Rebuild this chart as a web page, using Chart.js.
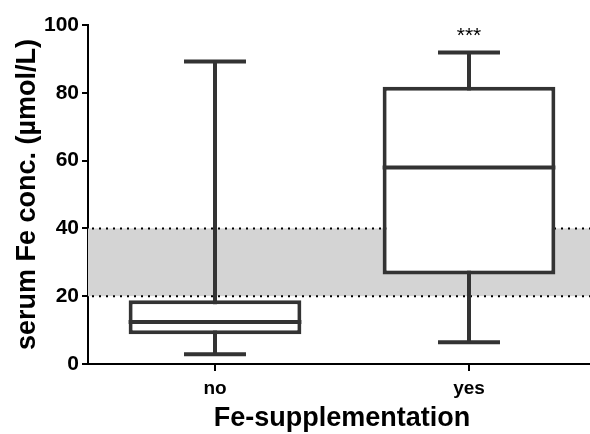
<!DOCTYPE html>
<html>
<head>
<meta charset="utf-8">
<script src="https://cdn.jsdelivr.net/npm/chart.js@4.4.0/dist/chart.umd.min.js"></script>
<style>
  html, body { margin: 0; padding: 0; background: #fff; overflow: hidden; }
  #wrap { width: 596px; height: 434px; }
</style>
</head>
<body>
<div id="wrap"><canvas id="box-chart"></canvas></div>
<script>
// box plot data
const categories = ['no', 'yes'];
const whiskerMin = [2.9, 6.4];
const quartile1 = [8.8, 26.4];
const medians = [12.4, 58.0];
const quartile3 = [18.8, 81.8];
const whiskerMax = [89.2, 91.9];
const yTicks = [0, 20, 40, 60, 80, 100];
const refRange = [20, 40];
const significance = ['', '***'];

const boxColor = '#333333';
const fontFamily = '"Liberation Sans", Arial, Helvetica, sans-serif';

// draws reference band, whiskers, medians and stars using the chart scales
const boxPlotExtras = {
    id: 'boxPlotExtras',
    beforeDatasetsDraw(chart) {
        const ctx = chart.ctx;
        const area = chart.chartArea;
        const y = chart.scales.y;
        const x = chart.scales.x;
        const yLow = y.getPixelForValue(refRange[0]);
        const yHigh = y.getPixelForValue(refRange[1]);

        ctx.save();
        ctx.fillStyle = '#d4d4d4';
        ctx.fillRect(area.left, yHigh, area.right - area.left, yLow - yHigh);

        ctx.strokeStyle = '#000';
        ctx.lineWidth = 2;
        ctx.setLineDash([2, 5]);
        [yLow, yHigh].forEach(py => {
            ctx.beginPath();
            ctx.moveTo(area.left + 4, py);
            ctx.lineTo(area.right, py);
            ctx.stroke();
        });
        ctx.setLineDash([]);

        // whiskers
        const catWidth = x.getPixelForValue(1) - x.getPixelForValue(0);
        const capHalf = catWidth * 0.122;
        ctx.strokeStyle = boxColor;
        ctx.lineWidth = 4;
        categories.forEach((cat, i) => {
            const cx = x.getPixelForValue(i);
            const pMin = y.getPixelForValue(whiskerMin[i]);
            const pMax = y.getPixelForValue(whiskerMax[i]);
            ctx.beginPath();
            ctx.moveTo(cx, pMin);
            ctx.lineTo(cx, pMax);
            ctx.moveTo(cx - capHalf, pMin);
            ctx.lineTo(cx + capHalf, pMin);
            ctx.moveTo(cx - capHalf, pMax);
            ctx.lineTo(cx + capHalf, pMax);
            ctx.stroke();
        });
        ctx.restore();
    },
    afterDatasetsDraw(chart) {
        const ctx = chart.ctx;
        const y = chart.scales.y;
        const meta = chart.getDatasetMeta(0);

        ctx.save();
        ctx.strokeStyle = boxColor;
        ctx.lineWidth = 4;
        meta.data.forEach((bar, i) => {
            const half = bar.width / 2;
            const py = y.getPixelForValue(medians[i]);
            ctx.beginPath();
            ctx.moveTo(bar.x - half, py);
            ctx.lineTo(bar.x + half, py);
            ctx.stroke();
        });

        ctx.fillStyle = '#000';
        ctx.font = '21px ' + fontFamily;
        ctx.textAlign = 'center';
        ctx.textBaseline = 'middle';
        meta.data.forEach((bar, i) => {
            if (significance[i]) {
                ctx.fillText(significance[i], bar.x, y.getPixelForValue(whiskerMax[i]) - 16);
            }
        });
        ctx.restore();
    }
};

const chartCanvas = document.getElementById('box-chart');
const chartContext = chartCanvas.getContext('2d');

window.boxChart = new Chart(chartContext, {
    type: 'bar',
    data: {
        labels: categories,
        datasets: [{
            label: 'serum Fe',
            data: categories.map((c, i) => [quartile1[i], quartile3[i]]),
            backgroundColor: 'rgba(255, 255, 255, 1)',
            borderColor: boxColor,
            borderWidth: 4,
            borderSkipped: false,
            barPercentage: 0.68,
            categoryPercentage: 1.0
        }]
    },
    plugins: [boxPlotExtras],
    options: {
        responsive: true,
        maintainAspectRatio: false,
        animation: false,
        layout: {
            padding: { top: 25, right: 0, bottom: 0, left: 11 }
        },
        plugins: {
            legend: { display: false },
            tooltip: { enabled: false }
        },
        scales: {
            x: {
                afterFit(scale) {
                    scale.height = 70;
                },
                grid: {
                    display: true,
                    offset: false,
                    drawOnChartArea: false,
                    tickLength: 7,
                    tickColor: '#000',
                    lineWidth: 2
                },
                border: { color: '#000', width: 2 },
                ticks: {
                    color: '#000',
                    padding: 6,
                    font: { family: fontFamily, size: 19, weight: 'bold' }
                },
                title: {
                    display: true,
                    text: 'Fe-supplementation',
                    color: '#000',
                    padding: { top: 0, bottom: -1 },
                    font: { family: fontFamily, size: 27, weight: 'bold' }
                }
            },
            y: {
                min: 0,
                max: 100,
                afterBuildTicks(axis) {
                    axis.ticks = yTicks.map(v => ({ value: v }));
                },
                afterFit(scale) {
                    scale.width = 77;
                },
                grid: {
                    display: true,
                    drawOnChartArea: false,
                    tickLength: 6,
                    tickColor: '#000',
                    lineWidth: 2
                },
                border: { color: '#000', width: 2 },
                ticks: {
                    color: '#000',
                    padding: 3,
                    font: { family: fontFamily, size: 21, weight: 'bold' }
                },
                title: {
                    display: true,
                    text: 'serum Fe conc. (µmol/L)',
                    color: '#000',
                    padding: { top: 0, bottom: 0 },
                    font: { family: fontFamily, size: 27, weight: 'bold' }
                }
            }
        }
    }
});
</script>
</body>
</html>
